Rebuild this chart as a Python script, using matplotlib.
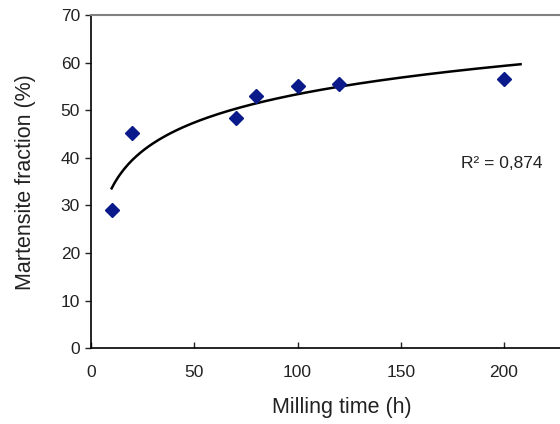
import numpy as np
import matplotlib.pyplot as plt

plt.rcParams['font.family'] = ['Liberation Sans', 'DejaVu Sans']

milling_time = [10, 20, 70, 80, 100, 120, 200]
martensite = [29.0, 45.2, 48.3, 53.0, 55.2, 55.5, 56.5]
r2_label = "R\u00b2 = 0,874"

# logarithmic trend line (Excel style) fitted to the points
a, b = np.polyfit(np.log(milling_time), martensite, 1)
xt = np.linspace(10, 208, 200)
yt = a * np.log(xt) + b

fig = plt.figure(figsize=(5.6, 4.24), dpi=100)
ax = fig.add_axes([0.1625, 0.179, 0.922, 0.785])

ax.plot(xt, yt, color='black', linewidth=1.8, zorder=2)
ax.plot(milling_time, martensite, linestyle='none', marker='D', markersize=7,
        color='#0a1a8a', zorder=3)

ax.set_xlim(0, 250)
ax.set_ylim(0, 70)
ax.set_xticks([0, 50, 100, 150, 200])
ax.set_yticks(range(0, 71, 10))
ax.tick_params(axis='x', direction='in', length=4, width=1, labelsize=12.5, pad=12, colors='#222222')
ax.tick_params(axis='y', direction='out', length=4, width=1, labelsize=12.5, pad=4, colors='#222222')

ax.spines['top'].set_color('#808080')
ax.spines['top'].set_linewidth(1.5)
ax.spines['right'].set_visible(False)
ax.spines['left'].set_linewidth(1.2)
ax.spines['bottom'].set_linewidth(1.2)

ax.set_xlabel("Milling time (h)", fontsize=15.5, color='#222222')
ax.set_ylabel("Martensite fraction (%)", fontsize=15.5, color='#222222')
ax.xaxis.set_label_coords(0.4855, -0.147)
ax.yaxis.set_label_coords(-0.107, 0.5)

ax.text(179, 38.9, r2_label, fontsize=12.5, va='center', ha='left', color='#222222')

fig.savefig('out.png', dpi=100)
